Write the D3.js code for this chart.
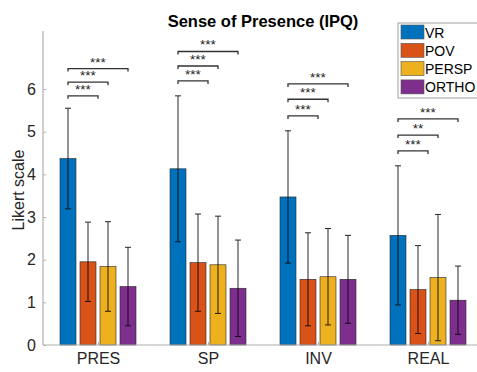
<!DOCTYPE html>
<html>
<head>
<meta charset="utf-8">
<script src="https://cdn.jsdelivr.net/npm/d3@7"></script>
<style>
  body { margin: 0; background: #fff; }
  svg { font-family: "Liberation Sans", Arial, sans-serif; }
</style>
</head>
<body>
<svg></svg>
<script>
// categories and series
const categories = ["PRES", "SP", "INV", "REAL"];
const series = ["VR", "POV", "PERSP", "ORTHO"];
const colors = ["#0072BD", "#D95319", "#EDB120", "#7E2F8E"];

// means per series (one value per category)
const vrMean = [4.37, 4.13, 3.47, 2.57];
const povMean = [1.95, 1.93, 1.54, 1.30];
const perspMean = [1.84, 1.88, 1.60, 1.58];
const orthoMean = [1.37, 1.33, 1.54, 1.05];

// error bar half-lengths (SD)
const vrErr = [1.18, 1.71, 1.55, 1.63];
const povErr = [0.93, 1.14, 1.09, 1.03];
const perspErr = [1.05, 1.14, 1.13, 1.48];
const orthoErr = [0.92, 1.13, 1.03, 0.80];

const yTicks = [0, 1, 2, 3, 4, 5, 6];

// significance brackets: category, end offset (in bars from VR), height, label
const sigCat = [0, 0, 0, 1, 1, 1, 2, 2, 2, 3, 3, 3];
const sigEnd = [1.5, 2, 3, 1.5, 2, 3, 1.5, 2, 3, 1.5, 2, 3];
const sigY = [5.84, 6.16, 6.48, 6.19, 6.54, 6.88, 5.37, 5.76, 6.12, 4.55, 4.92, 5.30];
const sigLabel = ["***", "***", "***", "***", "***", "***", "***", "***", "***", "***", "**", "***"];

const means = [vrMean, povMean, perspMean, orthoMean];
const errs = [vrErr, povErr, perspErr, orthoErr];

const w = 477, h = 372;
const svg = d3.select("svg").attr("width", w).attr("height", h);

const margin = { left: 43, top: 31, bottom: 27 };
const x = d3.scaleLinear().domain([0.5, 4.5]).range([margin.left, margin.left + 440]);
const y = d3.scaleLinear().domain([0, 7.36]).range([h - margin.bottom, margin.top]);

const step = 20, barW = 16;
const barX = (ci, si) => x(ci + 1) + (si - 1.5) * step;

const rows = [];
series.forEach((s, si) => {
  categories.forEach((c, ci) => {
    rows.push({ si, ci, m: means[si][ci], e: errs[si][ci] });
  });
});

// bars
svg.append("g")
  .selectAll("rect")
  .data(rows)
  .enter()
  .append("rect")
  .attr("x", d => barX(d.ci, d.si) - barW / 2)
  .attr("width", barW)
  .attr("y", d => y(d.m))
  .attr("height", d => y(0) - y(d.m))
  .attr("fill", d => colors[d.si])
  .attr("stroke", "#262626")
  .attr("stroke-width", 0.6);

// axes
const gy = svg.append("g").attr("transform", `translate(${margin.left},0)`)
  .call(d3.axisLeft(y).tickValues(yTicks).tickSize(-3).tickPadding(7));
const gx = svg.append("g").attr("transform", `translate(0,${y(0)})`)
  .call(d3.axisBottom(x).tickValues([1, 2, 3, 4]).tickFormat((d, i) => categories[i]).tickSize(-3).tickPadding(8));
[gx, gy].forEach(g => {
  g.select(".domain").attr("stroke", "#b0b0b0").attr("stroke-width", 1.2);
  g.selectAll(".tick line").attr("stroke", "#b0b0b0");
  g.selectAll("text").attr("fill", "#262626").attr("font-size", 16);
});
gy.select(".domain").attr("d", `M0,${y(7.36)}V${y(0)}`);
gx.select(".domain").attr("d", `M${x(0.5)},0H${x(4.5)}`);

// error bars
const eb = svg.append("g").attr("stroke", "#000").attr("stroke-width", 1).attr("opacity", 0.85);
rows.forEach(d => {
  const cx = barX(d.ci, d.si);
  const lo = y(Math.max(0, d.m - d.e)), hi = y(d.m + d.e);
  eb.append("line").attr("x1", cx).attr("x2", cx).attr("y1", lo).attr("y2", hi);
  eb.append("line").attr("x1", cx - 3).attr("x2", cx + 3).attr("y1", lo).attr("y2", lo);
  eb.append("line").attr("x1", cx - 3).attr("x2", cx + 3).attr("y1", hi).attr("y2", hi);
});

// significance brackets
const sg = svg.append("g");
sigCat.forEach((c, i) => {
  const x0 = barX(c, 0), x1 = barX(c, 0) + sigEnd[i] * step, yy = y(sigY[i]);
  sg.append("path")
    .attr("d", `M${x0},${yy + 3}V${yy}H${x1}V${yy + 3}`)
    .attr("fill", "none").attr("stroke", "#333").attr("stroke-width", 1.3);
  sg.append("text")
    .attr("x", (x0 + x1) / 2).attr("y", yy - 2)
    .attr("text-anchor", "middle").attr("font-size", 13.5).attr("fill", "#222")
    .text(sigLabel[i]);
});

// title
svg.append("text").attr("x", 263).attr("y", 27).attr("text-anchor", "middle")
  .attr("font-weight", "bold").attr("font-size", 16.5).attr("fill", "#000")
  .text("Sense of Presence (IPQ)");

// y label
svg.append("text")
  .attr("transform", `translate(24,${(y(0) + y(7.36)) / 2 + 2}) rotate(-90)`)
  .attr("text-anchor", "middle").attr("font-size", 16).attr("fill", "#262626")
  .text("Likert scale");

// legend
const lg = svg.append("g").attr("transform", "translate(398,23)");
lg.append("rect").attr("width", 82).attr("height", 75)
  .attr("fill", "#fff").attr("stroke", "#a0a0a0");
series.forEach((s, i) => {
  lg.append("rect").attr("x", 3).attr("y", 9 + i * 18.3 - 7).attr("width", 23).attr("height", 14)
    .attr("fill", colors[i]).attr("stroke", "#555").attr("stroke-width", 0.6);
  lg.append("text").attr("x", 27).attr("y", 9 + i * 18.3 + 5.5)
    .attr("font-size", 14).attr("fill", "#000").text(s);
});
</script>
</body>
</html>
